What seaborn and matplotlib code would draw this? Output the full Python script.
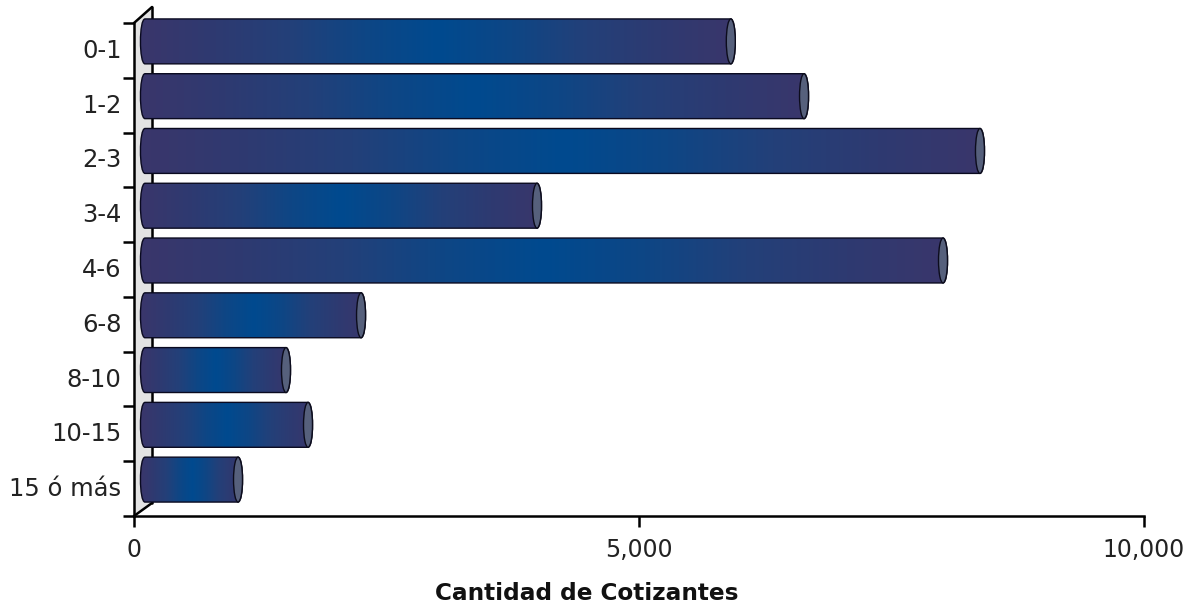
import numpy as np, pandas as pd
import matplotlib
matplotlib.use("Agg")
import matplotlib.pyplot as plt
import seaborn as sns
from matplotlib.colors import LinearSegmentedColormap
from matplotlib.patches import Ellipse, PathPatch, Polygon
from matplotlib.path import Path
from matplotlib.transforms import Affine2D

categorias = ["0-1", "1-2", "2-3", "3-4", "4-6", "6-8", "8-10", "10-15", "15 ó más"]
cotizantes = [5800, 6525, 8267, 3881, 7901, 2139, 1396, 1614, 921]
xticks = [0, 5000, 10000]
xlabels = ["0", "5,000", "10,000"]

W, H = 1192, 606
L, R, T, B = 134, 1144, 23, 516
sns.set_theme(style="white")
plt.rcParams["font.family"] = ["DejaVu Sans"]

fig = plt.figure(figsize=(W / 100, H / 100), dpi=100)
ax = fig.add_axes([L / W, 1 - B / H, (R - L) / W, (B - T) / H])
df = pd.DataFrame({"rango": categorias, "cant": cotizantes})
sns.barplot(data=df, y="rango", x="cant", orient="h", width=0.82, ax=ax, color="#1f3f80")
ax.set_xlim(0, 10000)
ax.set_ylim(len(categorias) - 0.5, -0.5)

# px -> data
ux = 10000 / (R - L)
uy = len(categorias) / (B - T)
dx, dy = 11 * ux, 9 * uy
depth_x, depth_y = 18 * ux, 16 * uy
cap = 4.5 * ux

# pared del fondo
y0, y1 = ax.get_ylim()
ax.add_patch(Polygon([(0, y0), (depth_x, y0 - 13 * uy), (depth_x, y1 - depth_y), (0, y1)],
                     fc="#e3e3e3", ec="none", clip_on=False, zorder=0.5))
ax.plot([depth_x, depth_x], [y0 - 13 * uy, y1 - depth_y], color="black", lw=1.8, clip_on=False, zorder=0.6)
ax.plot([0, depth_x], [y1, y1 - depth_y], color="black", lw=1.8, clip_on=False, zorder=0.6)
ax.plot([0, depth_x], [y0, y0 - 13 * uy], color="black", lw=1.8, clip_on=False, zorder=0.6)

mitad = ["#3a366b", "#2e3a71", "#234079", "#0e4685", "#004a8f"]
cmap = LinearSegmentedColormap.from_list("cil", mitad + mitad[-2::-1], N=256)
grad = np.linspace(0, 1, 256).reshape(1, -1)

for p in ax.patches[:]:
    if not hasattr(p, "get_width") or p.get_width() < 100:
        continue
    p.set_visible(False)
    x0, x1 = dx, p.get_width() + dx
    ya, yb = p.get_y() - dy, p.get_y() + p.get_height() - dy
    k = 1.35 * cap
    verts = [(x0, ya), (x1, ya), (x1 + k, ya), (x1 + k, yb), (x1, yb), (x0, yb),
             (x0 - k, yb), (x0 - k, ya), (x0, ya)]
    codes = [Path.MOVETO, Path.LINETO, Path.CURVE4, Path.CURVE4, Path.CURVE4, Path.LINETO,
             Path.CURVE4, Path.CURVE4, Path.CURVE4]
    body = PathPatch(Path(verts, codes), fc="none", ec="#0a0a20", lw=1.0, clip_on=False, zorder=3)
    ax.add_patch(body)
    im = ax.imshow(grad, cmap=cmap, aspect="auto", extent=(x0 - cap, x1 + cap, yb, ya), zorder=2.5,
                   interpolation="bilinear", interpolation_stage="rgba")
    im.set_clip_box(fig.bbox)
    im.set_clip_path(body)
    ax.add_patch(Ellipse((x1, (ya + yb) / 2), 2 * cap, yb - ya, fc="#56607c", ec="#0c0c1c", lw=1.0,
                         clip_on=False, zorder=3.2))

ax.set_xlim(0, 10000)
ax.set_ylim(y0, y1)

for s in ["top", "right"]:
    ax.spines[s].set_visible(False)
for s in ["left", "bottom"]:
    ax.spines[s].set_linewidth(1.8)
    ax.spines[s].set_color("black")
    ax.spines[s].set_zorder(4)

ax.set_xticks(xticks, xlabels, fontsize=17, color="#222222")
ax.set_yticks(range(len(categorias)), categorias, fontsize=17.5, color="#222222")
ax.set_yticks(np.arange(len(categorias) + 1) - 0.5, minor=True)
ax.tick_params(axis="x", which="major", length=8, width=1.8, color="black", pad=8, bottom=True)
ax.tick_params(axis="y", which="major", length=0, pad=9)
ax.tick_params(axis="y", which="minor", length=8, width=1.8, color="black", left=True)
for lbl in ax.get_yticklabels():
    lbl.set_transform(lbl.get_transform() + Affine2D().translate(0, 2))
ax.set_ylabel("")
ax.set_xlabel("Cantidad de Cotizantes", fontsize=16.7, fontweight="bold", color="#111111",
              labelpad=14, x=(587 - L) / (R - L))

fig.savefig("out.png", dpi=100, facecolor="white")
